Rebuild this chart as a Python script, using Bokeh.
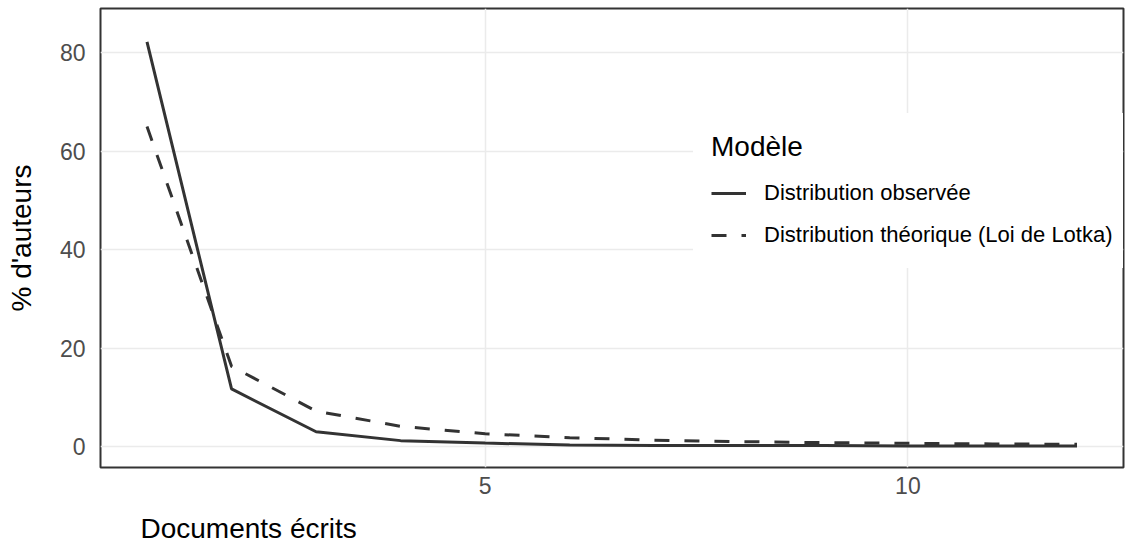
from bokeh.plotting import figure
from bokeh.models import Legend, LegendItem, FixedTicker, Range1d, Title
from bokeh.embed import file_html
from bokeh.resources import INLINE

# ---- data ----
documents = [1, 2, 3, 4, 5, 6, 7, 8, 9, 10, 11, 12]
observed = [82.2, 11.7, 3.0, 1.2, 0.7, 0.3, 0.2, 0.2, 0.2, 0.1, 0.1, 0.1]
lotka = [65.0, 16.3, 7.2, 4.1, 2.6, 1.8, 1.3, 1.0, 0.8, 0.65, 0.54, 0.45]
x_ticks = [5, 10]
y_ticks = [0, 20, 40, 60, 80]
series_labels = ["Distribution observée", "Distribution théorique (Loi de Lotka)"]
legend_title = "Modèle"
x_title = "Documents écrits"
y_title = "% d'auteurs"

FONT = "Liberation Sans"
INK = "#333333"

p = figure(width=1136, height=558,
           x_range=Range1d(0.45, 12.55), y_range=Range1d(-4.26, 89.0),
           output_backend="svg", toolbar_location=None,
           min_border_left=100, min_border_right=13, min_border_top=8,
           min_border_bottom=90)
p.background_fill_color = "white"
p.border_fill_color = "white"
p.outline_line_color = INK
p.outline_line_width = 2

r_obs = p.line(documents, observed, line_color=INK, line_width=3)
r_lot = p.line(documents, lotka, line_color=INK, line_width=3, line_dash="15 15")

p.xaxis.ticker = FixedTicker(ticks=x_ticks)
p.yaxis.ticker = FixedTicker(ticks=y_ticks)
for ax in (p.xaxis, p.yaxis):
    ax.axis_line_color = None
    ax.major_tick_line_color = None
    ax.minor_tick_line_color = None
    ax.major_tick_out = 0
    ax.major_tick_in = 0
    ax.major_label_text_font = FONT
    ax.major_label_text_font_size = "23px"
    ax.major_label_text_color = "#4D4D4D"
p.xaxis.major_label_standoff = 9
p.yaxis.major_label_standoff = 15
p.yaxis.axis_label = y_title
p.yaxis.axis_label_text_font = FONT
p.yaxis.axis_label_text_font_size = "28px"
p.yaxis.axis_label_text_font_style = "normal"
p.yaxis.axis_label_text_color = "black"
p.yaxis.axis_label_standoff = 20

p.xgrid.grid_line_color = "#EBEBEB"
p.ygrid.grid_line_color = "#EBEBEB"
p.xgrid.grid_line_width = 1.5
p.ygrid.grid_line_width = 1.5

legend = Legend(items=[LegendItem(label=series_labels[0], renderers=[r_obs]),
                       LegendItem(label=series_labels[1], renderers=[r_lot])],
                location=(593, 199), title=legend_title,
                title_text_font=FONT, title_text_font_size="28px",
                title_text_font_style="normal", title_text_color="black",
                title_standoff=15,
                label_text_font=FONT, label_text_font_size="22px",
                label_text_color="black",
                glyph_width=35, glyph_height=30, label_height=30,
                label_standoff=18, spacing=12, padding=18, margin=0,
                background_fill_color="white", background_fill_alpha=1.0,
                border_line_alpha=0)
p.add_layout(legend)

# x-axis title, left-placed below the panel as in the reference
p.add_layout(Title(text=x_title, align="left", offset=40, standoff=29,
                   vertical_align="bottom",
                   text_font=FONT, text_font_size="28px",
                   text_font_style="normal", text_color="black"), "below")

open("out.html", "w").write(file_html(p, INLINE))
